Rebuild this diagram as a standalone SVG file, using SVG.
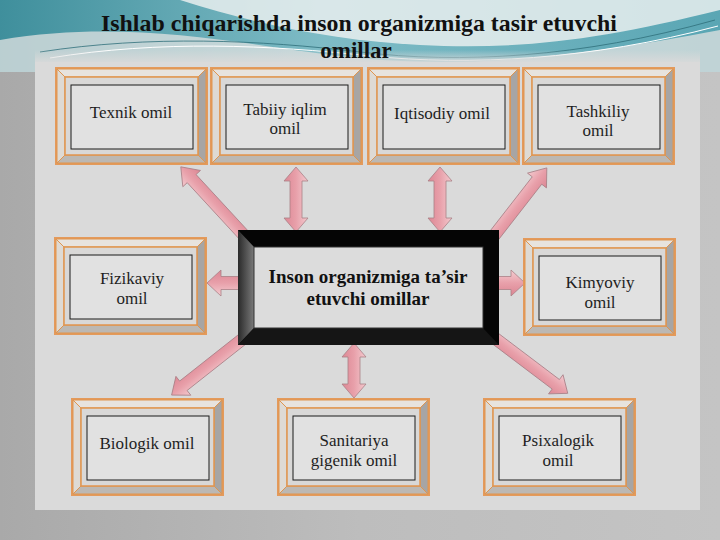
<svg xmlns="http://www.w3.org/2000/svg" xmlns:xlink="http://www.w3.org/1999/xlink" width="720" height="540" viewBox="0 0 720 540">
<style>
.title{font-family:"Liberation Serif","Times New Roman",serif;font-weight:bold;font-size:23px;fill:#111;text-anchor:middle}
.lbl{font-family:"Liberation Serif","Times New Roman",serif;font-size:17px;fill:#1e1e1e;text-anchor:middle}
.clbl{font-family:"Liberation Serif","Times New Roman",serif;font-weight:bold;font-size:19px;fill:#111;text-anchor:middle}
.arrow{fill:url(#pink);stroke:#a98087;stroke-width:0.8}
.seam{stroke:#e0954f;stroke-width:1}
</style>
<defs>
<linearGradient id="bg" x1="0" y1="0" x2="1" y2="0">
<stop offset="0" stop-color="#a9a9a9"/><stop offset="0.5" stop-color="#bdbdbd"/><stop offset="1" stop-color="#c4c4c4"/>
</linearGradient>
<linearGradient id="teal" x1="0" y1="0" x2="1" y2="0">
<stop offset="0" stop-color="#3f8f9c"/><stop offset="0.45" stop-color="#7fbcc6"/><stop offset="1" stop-color="#5aa6b4"/>
</linearGradient>
<linearGradient id="fade" x1="0" y1="0" x2="0" y2="1">
<stop offset="0" stop-color="#dadada" stop-opacity="0"/><stop offset="1" stop-color="#dadada" stop-opacity="1"/>
</linearGradient>
<linearGradient id="pink" gradientUnits="userSpaceOnUse" x1="0" y1="-12" x2="0" y2="12">
<stop offset="0" stop-color="#f3c9ce"/><stop offset="0.5" stop-color="#e8a0aa"/><stop offset="1" stop-color="#dc8794"/>
</linearGradient>
<linearGradient id="cleft" x1="0" y1="0" x2="1" y2="0">
<stop offset="0" stop-color="#2a2a2a"/><stop offset="1" stop-color="#7a7a7a"/>
</linearGradient>
<g id="frame">
<rect x="0" y="0" width="153" height="98" fill="#e39a5c"/>
<polygon points="2,2 151,2 143,10 10,10" fill="#e7e3de" class="seam"/>
<polygon points="2,2 10,10 10,88 2,96" fill="#dedad4" class="seam"/>
<polygon points="151,2 151,96 143,88 143,10" fill="#a7a5a4" class="seam"/>
<polygon points="2,96 151,96 143,88 10,88" fill="#bcb8b3" class="seam"/>
<rect x="10" y="10" width="133" height="78" fill="#d9d8d7" stroke="#e0954f" stroke-width="1.5"/>
<rect x="16" y="18" width="122" height="64" fill="#e1e1e1" stroke="#1a1a1a" stroke-width="1"/>
</g>
</defs>

<rect x="0" y="0" width="720" height="540" fill="url(#bg)"/>
<rect x="0" y="0" width="720" height="72" fill="url(#teal)"/>
<path d="M180,0 C260,25 330,40 420,45 C520,50 600,40 720,10 L720,0 Z" fill="#e9eeee" opacity="0.85"/>
<path d="M0,40 C120,20 220,40 330,55 C450,70 560,60 720,30 L720,72 L0,72 Z" fill="#d9dede" opacity="0.8"/>
<path d="M40,52 C150,35 260,40 360,52 C460,64 580,58 715,20" fill="none" stroke="#2f6f7a" stroke-width="0.8"/>
<path d="M50,58 C160,40 270,45 370,56 C470,66 590,60 718,26" fill="none" stroke="#ffffff" stroke-width="1"/>
<rect x="35" y="62" width="665" height="448" fill="#dadada"/>
<rect x="35" y="50" width="665" height="14" fill="url(#fade)"/>

<text class="title" x="359" y="31" textLength="516" lengthAdjust="spacingAndGlyphs">Ishlab chiqarishda inson organizmiga tasir etuvchi</text>
<text class="title" x="356" y="58">omillar</text>

<g id="connectors">
<polygon class="arrow" transform="translate(252,244) rotate(-132.7)" points="0,-6 89,-6 89,-12 105,0 89,12 89,6 0,6"/>
<polygon class="arrow" transform="translate(486,246) rotate(-52.1)" points="0,-6 83,-6 83,-12 99,0 83,12 83,6 0,6"/>
<polygon class="arrow" transform="translate(296,167) rotate(90)" points="14,-6 51,-6 51,-12 65,0 51,12 51,6 14,6 14,12 0,0 14,-12"/>
<polygon class="arrow" transform="translate(440,167) rotate(90)" points="14,-6 51,-6 51,-12 65,0 51,12 51,6 14,6 14,12 0,0 14,-12"/>
<polygon class="arrow" transform="translate(248,283) rotate(180)" points="0,-6.5 27,-6.5 27,-13 41,0 27,13 27,6.5 0,6.5"/>
<polygon class="arrow" transform="translate(490,283)" points="0,-6.5 21,-6.5 21,-13 35,0 21,13 21,6.5 0,6.5"/>
<polygon class="arrow" transform="translate(254,330) rotate(141.7)" points="0,-6 90,-6 90,-12 105,0 90,12 90,6 0,6"/>
<polygon class="arrow" transform="translate(354,343) rotate(90)" points="14,-6 41,-6 41,-12 55,0 41,12 41,6 14,6 14,12 0,0 14,-12"/>
<polygon class="arrow" transform="translate(484,330) rotate(37.1)" points="0,-6 90,-6 90,-12 105,0 90,12 90,6 0,6"/>
</g>

<g id="center">
<rect x="238" y="230" width="261" height="115" fill="#050505"/>
<polygon points="238,230 254,247 254,328 238,345" fill="url(#cleft)"/>
<polygon points="238,345 254,328 483,328 499,345" fill="#151515"/>
<rect x="254" y="247" width="229" height="81" fill="#dcdcdc" stroke="#333" stroke-width="1"/>
<text class="clbl" x="368" y="283">Inson organizmiga ta’sir</text>
<text class="clbl" x="368" y="305">etuvchi omillar</text>
</g>

<g id="n-texnik"><use href="#frame" x="55" y="67"/><text class="lbl" x="131" y="118">Texnik omil</text></g>
<g id="n-tabiiy"><use href="#frame" x="210" y="67"/><text class="lbl" x="285" y="115">Tabiiy iqlim</text><text class="lbl" x="285" y="134">omil</text></g>
<g id="n-iqtisodiy"><use href="#frame" x="367" y="67"/><text class="lbl" x="442" y="119">Iqtisodiy omil</text></g>
<g id="n-tashkiliy"><use href="#frame" x="522" y="67"/><text class="lbl" x="598" y="117">Tashkiliy</text><text class="lbl" x="598" y="136">omil</text></g>
<g id="n-fizikaviy"><use href="#frame" x="54" y="237"/><text class="lbl" x="132" y="284">Fizikaviy</text><text class="lbl" x="132" y="304">omil</text></g>
<g id="n-kimyoviy"><use href="#frame" x="523" y="238"/><text class="lbl" x="600" y="288">Kimyoviy</text><text class="lbl" x="600" y="308">omil</text></g>
<g id="n-biologik"><use href="#frame" x="71" y="398"/><text class="lbl" x="147" y="449">Biologik omil</text></g>
<g id="n-sanitariya"><use href="#frame" x="277" y="398"/><text class="lbl" x="354" y="446">Sanitariya</text><text class="lbl" x="354" y="466">gigenik omil</text></g>
<g id="n-psixalogik"><use href="#frame" x="483" y="398"/><text class="lbl" x="558" y="446">Psixalogik</text><text class="lbl" x="558" y="466">omil</text></g>
</svg>
